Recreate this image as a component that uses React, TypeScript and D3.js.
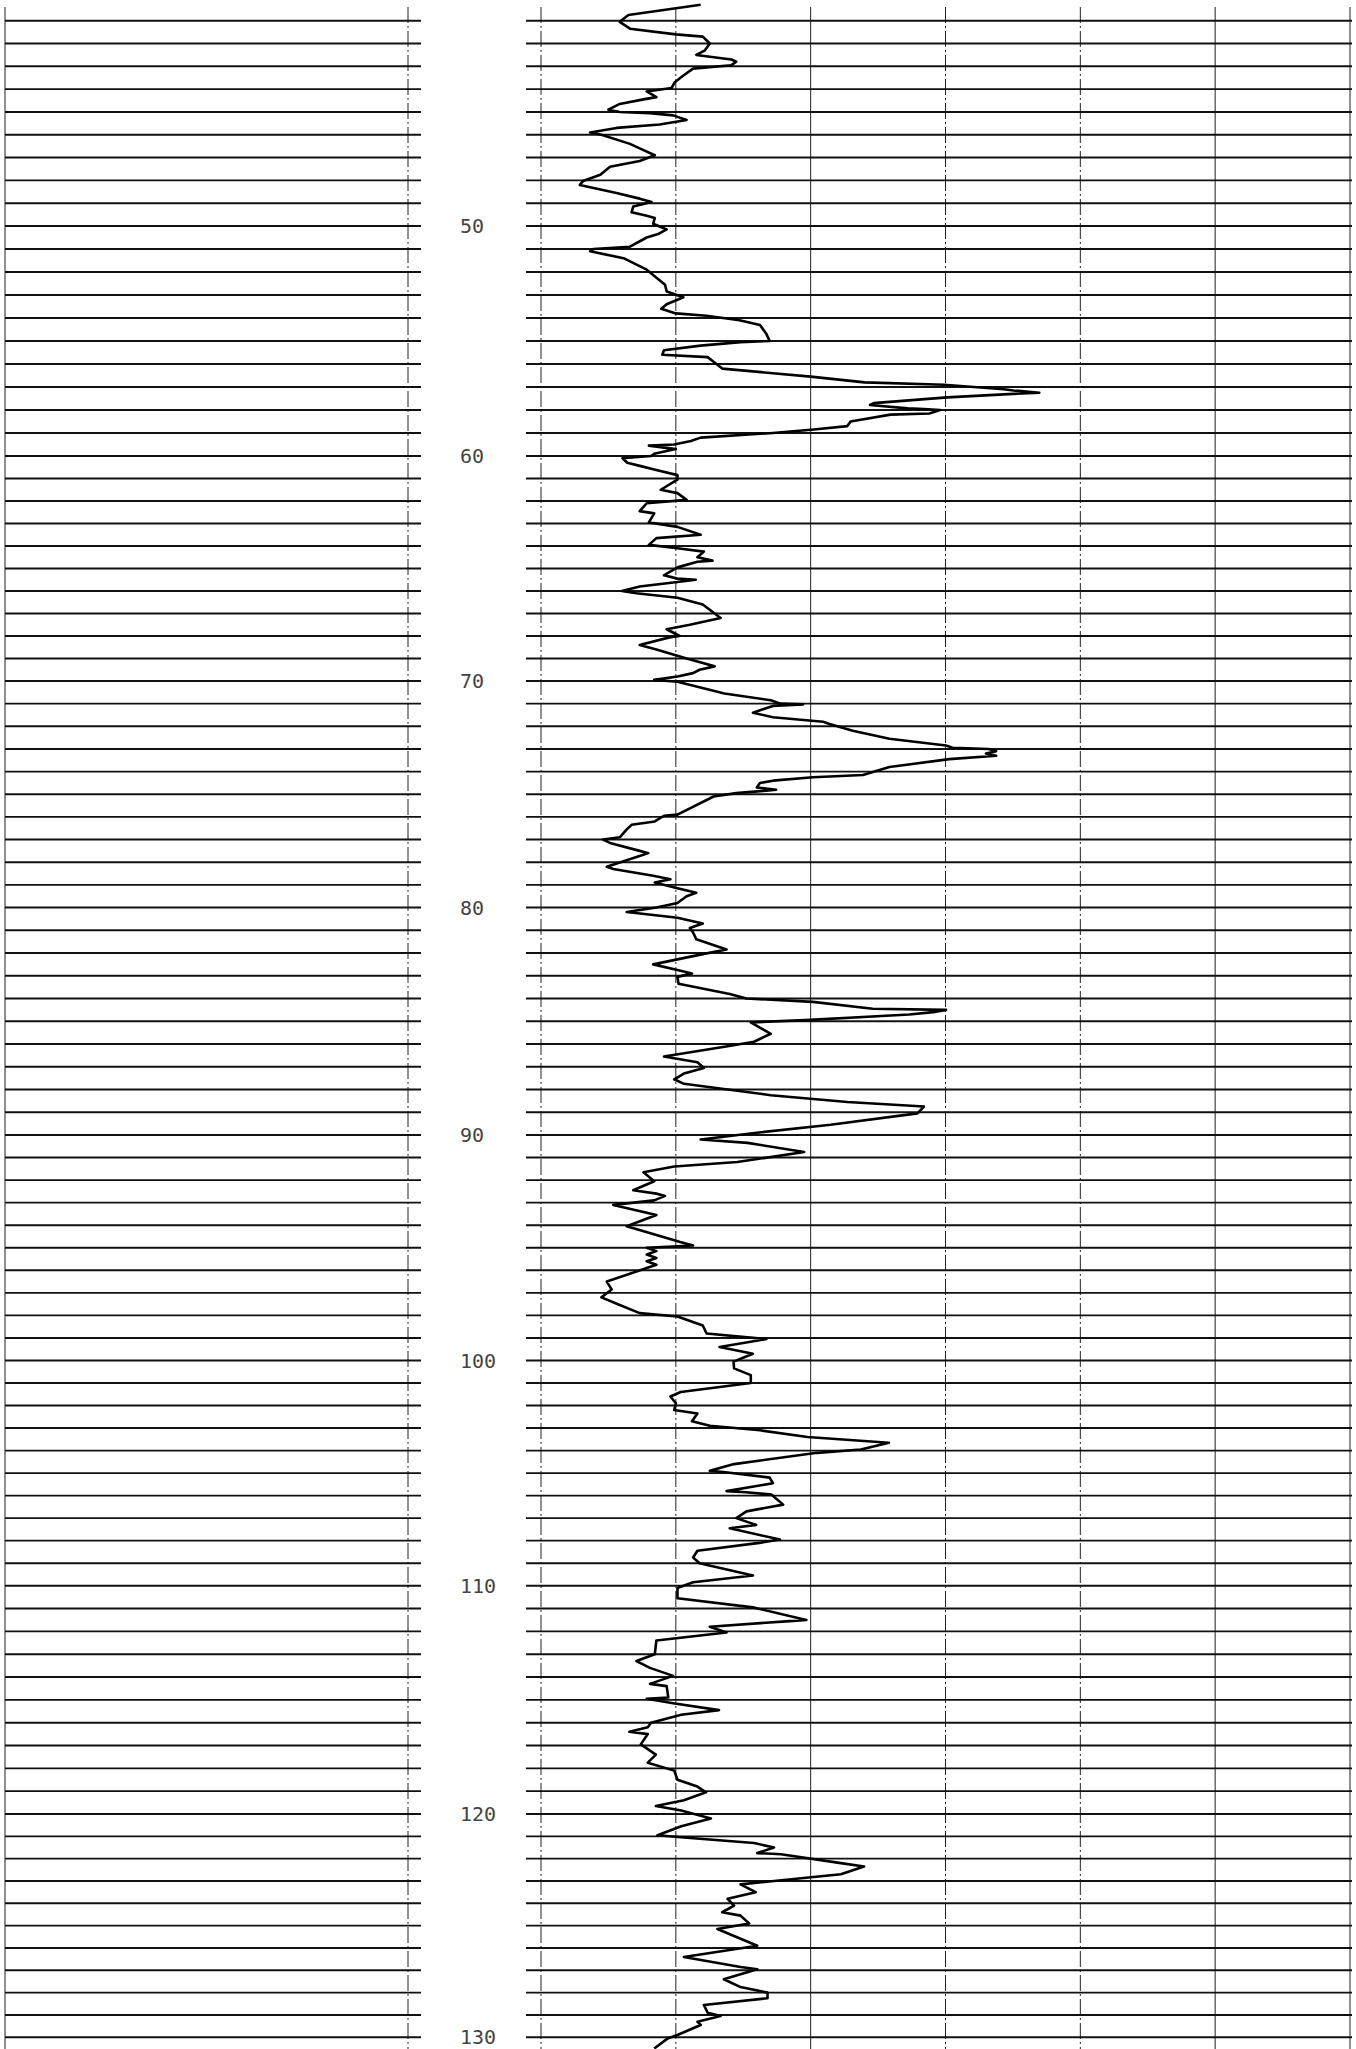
import React from "react";
import * as d3 from "d3";

// Gamma-ray style log curve: depth (m) and reading (API) pairs
const grDepth: number[] = [
  40.3, 40.75, 41.05, 41.35, 41.6, 41.7, 42.0, 42.3, 42.5, 42.7, 42.8, 42.95, 43.1, 43.4, 43.7, 43.95,
  44.1, 44.35, 44.45, 44.65, 44.9, 45.0, 45.05, 45.15, 45.35, 45.55, 45.7, 45.9, 46.0, 46.4, 46.6, 46.9,
  47.15, 47.4, 47.75, 48.03, 48.2, 48.55, 48.8, 48.95, 49.15, 49.4, 49.55, 49.65, 49.9, 50.15, 50.35,
  50.5, 50.9, 51.0, 51.1, 51.4, 51.9, 52.3, 52.55, 52.85, 53.1, 53.4, 53.6, 53.8, 53.9, 54.1, 54.3,
  54.7, 55.0,
  55.05, 55.2, 55.4, 55.6, 55.7, 55.9, 56.2, 56.4, 56.55, 56.8, 56.9, 57.1, 57.15, 57.25, 57.3, 57.45,
  57.7, 57.78, 57.93, 57.96, 58.0, 58.15, 58.2, 58.5, 58.7, 58.85, 59.0, 59.2, 59.35, 59.5, 59.55, 59.7,
  59.9, 60.0, 60.1, 60.3, 60.45, 60.6, 60.85, 61.05, 61.5, 61.65, 61.95, 62.1, 62.45, 62.55, 62.95,
  63.15, 63.5, 63.65, 63.95, 64.1, 64.25, 64.5, 64.65, 64.7, 64.95, 65.3, 65.45, 65.5, 65.6, 65.8, 66.0,
  66.1, 66.3, 66.6, 67.2, 67.5, 67.7, 68.0, 68.05, 68.4, 68.6, 69.0, 69.2, 69.35, 69.5, 69.65, 69.8,
  69.95,
  70.03, 70.55, 70.85, 71.0, 71.03, 71.1, 71.4, 71.6, 71.8, 71.9, 72.2, 72.55, 72.85, 72.95, 73.0, 73.1,
  73.2, 73.3, 73.45, 73.8, 74.15, 74.25, 74.4, 74.5, 74.7, 74.8, 74.85, 74.95, 75.1, 75.9, 75.95, 76.2,
  76.35, 76.55, 76.9, 77.0, 77.15, 77.5, 77.6, 77.75, 78.2, 78.3, 78.6, 78.75, 78.9, 79.15, 79.35, 79.5,
  79.8, 80.0, 80.2, 80.45, 80.7, 80.9, 81.1, 81.4, 81.85, 82.05, 82.5, 82.75, 82.9, 83.05, 83.35, 83.8,
  84.0, 84.15, 84.45, 84.5, 84.6, 84.7, 84.95, 85.05,
  85.55, 85.9, 86.1, 86.55, 86.8, 87.05, 87.3, 87.55, 87.75, 88.25, 88.55, 88.75, 89.05, 89.55, 89.9,
  90.2, 90.35, 90.75, 91.2, 91.4, 91.65, 92.05, 92.45, 92.6, 92.7, 92.9, 93.1, 93.55, 94.05, 94.75, 94.9,
  95.0, 95.15, 95.3, 95.45, 95.6, 95.75, 95.9, 96.5, 96.85, 97.2, 97.45, 97.9, 98.05, 98.45, 98.8, 99.05,
  99.4, 99.7, 100.05,
  100.35, 100.65, 101.0, 101.4, 101.6, 101.9, 102.2, 102.35, 102.7, 102.9, 103.1, 103.4, 103.65, 103.95,
  104.1, 104.6, 104.9, 104.95, 105.2, 105.45, 105.8, 105.85, 105.95, 106.4, 106.7, 107.0, 107.3, 107.45,
  107.95, 108.1, 108.45, 108.75, 109.0, 109.55, 109.85, 110.1, 110.55, 110.95, 111.5, 111.55, 111.8,
  112.05, 112.4, 113.0, 113.3, 113.6, 113.95, 114.3, 114.4, 114.9, 114.95, 115.15,
  115.45, 115.65, 116.0, 116.2, 116.4, 116.5, 116.95, 117.4, 117.75, 118.1, 118.5, 118.8, 119.05, 119.4,
  119.65, 119.85, 120.2, 120.55, 120.95, 121.05, 121.3, 121.5, 121.75, 121.8, 122.2, 122.35, 122.7, 123.0,
  123.15, 123.5, 123.8, 124.1, 124.4, 124.55, 124.9, 125.15, 125.9, 126.4, 126.85, 126.95, 127.4, 127.75,
  128.0, 128.25, 128.55, 128.9, 129.05, 129.3, 129.45, 129.9, 130.05, 130.5,
];

const grValue: number[] = [
  29.6, 16.2, 14.6, 16.5, 25.0, 30.0, 31.3, 30.4, 28.8, 35.3, 36.2, 35.3, 28.2, 26.4, 24.8, 24.2,
  19.6, 21.4, 19.0, 14.6, 12.5, 14.6, 20.2, 24.5, 27.0, 22.0, 14.0, 9.1, 11.2, 16.5, 18.3, 21.1,
  18.3, 12.8, 11.0, 7.8, 7.2, 14.0, 18.3, 20.5, 17.1, 16.8, 19.6, 21.1, 20.8, 23.3, 21.7,
  19.6, 16.5, 9.7, 9.1, 15.3, 19.6, 21.7, 23.0, 23.3, 26.4, 23.3, 22.3, 25.0, 30.7, 36.8, 40.6,
  41.8, 42.4,
  37.0, 29.6, 22.8, 22.5, 30.9, 32.0, 33.6, 43.0, 50.0, 60.0, 74.7, 85.8, 87.6, 92.4, 87.6, 75.3,
  61.7, 61.0, 68.0, 71.0, 74.0, 72.0, 64.8, 57.4, 56.8, 50.6, 43.0, 29.6, 27.8, 24.7, 20.0, 25.0,
  21.0, 20.4, 15.1, 16.0, 18.5, 21.0, 25.3, 25.3, 22.2, 25.3, 27.0, 19.6, 18.3, 21.0, 20.0,
  25.3, 29.6, 21.4, 20.0, 25.3, 30.2, 29.0, 31.8, 29.0, 25.3, 22.8, 25.3, 28.7, 25.3, 18.3, 15.0,
  17.7, 25.3, 30.0, 33.3, 27.6, 23.3, 25.7, 24.0, 18.3, 21.4, 27.0, 30.0, 32.2, 29.4, 28.2, 25.3,
  21.0,
  25.3, 34.0, 42.6, 44.4, 48.6, 43.0, 39.3, 43.0, 52.3, 53.5, 57.8, 64.6, 75.1, 76.3, 83.0, 84.4,
  82.5, 84.4, 75.7, 64.6, 59.7, 50.4, 43.0, 40.6, 40.0, 43.6, 41.2, 36.2, 32.0, 25.3, 22.8, 21.1,
  16.8, 15.9, 14.6, 11.5, 12.8, 18.3, 19.9, 18.0, 12.2, 13.4, 20.8, 24.0, 21.1, 25.3, 28.8, 27.0,
  25.3, 21.4, 15.9, 25.3, 30.0, 27.6, 28.2, 28.8, 34.4, 30.0, 20.8, 25.3, 28.0, 25.3, 25.5, 35.0,
  38.1, 50.4, 61.5, 75.1, 72.7, 68.3, 49.0, 38.9,
  42.6, 39.5, 34.6, 22.8, 29.0, 30.2, 26.5, 24.7, 26.5, 42.6, 56.8, 71.0, 69.8, 53.7, 40.0,
  29.6, 38.3, 48.8, 36.4, 24.7, 19.0, 21.0, 17.1, 21.4, 23.0, 21.0, 13.4, 21.4, 15.9, 25.8, 28.2,
  19.6, 21.4, 19.6, 21.4, 19.6, 21.4, 19.6, 12.2, 13.1, 11.2, 13.7, 18.3, 25.3, 30.0, 30.7, 41.8,
  33.1, 39.3, 35.7,
  35.8, 38.9, 38.9, 25.9, 24.0, 25.0, 24.7, 29.0, 28.0, 31.3, 40.6, 49.4, 64.5, 59.3,
  51.2, 35.8, 31.3, 33.8, 42.4, 43.0, 34.4, 38.0, 42.7, 44.9, 38.1, 36.2, 39.9, 35.0,
  44.3, 40.5, 29.0, 28.2, 29.4, 39.3, 28.2, 25.3, 25.3, 39.3, 49.2, 46.1, 31.3,
  34.4, 21.4, 21.1, 17.7, 20.2, 24.5, 20.2, 23.3, 23.6, 19.6, 24.5,
  33.0, 26.0, 20.4, 19.8, 16.4, 19.8, 18.5, 21.3, 19.8, 24.7, 25.3, 29.0, 30.6, 26.5,
  21.3, 26.0, 31.5, 26.0, 21.6, 26.5, 39.5, 43.2, 40.1, 44.5, 55.6, 59.9, 55.6, 43.2,
  37.0, 39.8, 34.6, 35.8, 33.6, 37.0, 38.6, 32.7, 40.1, 26.5, 37.0, 40.1, 33.9, 37.0,
  42.0, 42.0, 30.2, 30.9, 33.3, 29.0, 29.6, 25.3, 23.5, 21.0,
];

// Depth grid: a line every metre, labelled every ten
const gridDepths: number[] = d3.range(41, 131);
const depthLabels: number[] = [50, 60, 70, 80, 90, 100, 110, 120, 130];

// Track 2 reading scale divisions (API)
const gridValues: number[] = [0, 25, 50, 75, 100, 125, 150];
const dashedValues: number[] = [0, 25, 75, 100];

// Depth reference points for the chart's depth axis
const depthKnots: number[] = [41, 50, 60, 70, 80, 90, 100, 110, 120, 130];
const depthPixels: number[] = [20.7, 226, 456, 681, 907.5, 1135, 1360.5, 1585.7, 1814, 2037.3];

const W = 1356;
const H = 2049;

export default function App() {
  const y = d3.scaleLinear().domain(depthKnots).range(depthPixels);
  const x = d3.scaleLinear().domain([0, 150]).range([541, 1350]);
  const track1 = d3.scaleLinear().domain([0, 1]).range([5, 408]);

  const pts: [number, number][] = grDepth.map((d, i) => [grValue[i], d]);
  const line = d3
    .line<[number, number]>()
    .x((p) => x(p[0]))
    .y((p) => y(p[1]))
    .curve(d3.curveLinear);

  const dash = "16,3,2,3";

  return (
    <svg
      width={W}
      height={H}
      viewBox={`0 0 ${W} ${H}`}
      style={{ position: "absolute", left: 0, top: 0, background: "#fff" }}
    >
      <rect x={0} y={0} width={W} height={H} fill="#fff" />

      {/* Track 1 (empty) */}
      <g>
        <line x1={track1(0)} x2={track1(0)} y1={7} y2={H} stroke="#222" strokeWidth={1} />
        <line
          x1={track1(1)}
          x2={track1(1)}
          y1={7}
          y2={H}
          stroke="#222"
          strokeWidth={1}
          strokeDasharray={dash}
        />
        {gridDepths.map((d) => (
          <line
            key={"l" + d}
            x1={track1(0)}
            x2={track1(1) + 13}
            y1={y(d)}
            y2={y(d)}
            stroke="#111"
            strokeWidth={1.9}
          />
        ))}
      </g>

      {/* Depth track labels */}
      <g
        fontFamily="'DejaVu Sans Mono', 'Liberation Mono', monospace"
        fontSize={20}
        fill="#444"
      >
        {depthLabels.map((d) => (
          <text key={"t" + d} x={460} y={y(d)} dominantBaseline="central">
            {d}
          </text>
        ))}
      </g>

      {/* Track 2 grid */}
      <g>
        {gridValues.map((v) => (
          <line
            key={"v" + v}
            x1={x(v)}
            x2={x(v)}
            y1={7}
            y2={H}
            stroke="#222"
            strokeWidth={1}
            strokeDasharray={dashedValues.includes(v) ? dash : undefined}
          />
        ))}
        {gridDepths.map((d) => (
          <line
            key={"r" + d}
            x1={x(0) - 15}
            x2={x(150) + 2}
            y1={y(d)}
            y2={y(d)}
            stroke="#111"
            strokeWidth={1.9}
          />
        ))}
      </g>

      {/* Log curve */}
      <path
        d={line(pts) || ""}
        fill="none"
        stroke="#000"
        strokeWidth={2.6}
        strokeLinejoin="round"
      />
    </svg>
  );
}
